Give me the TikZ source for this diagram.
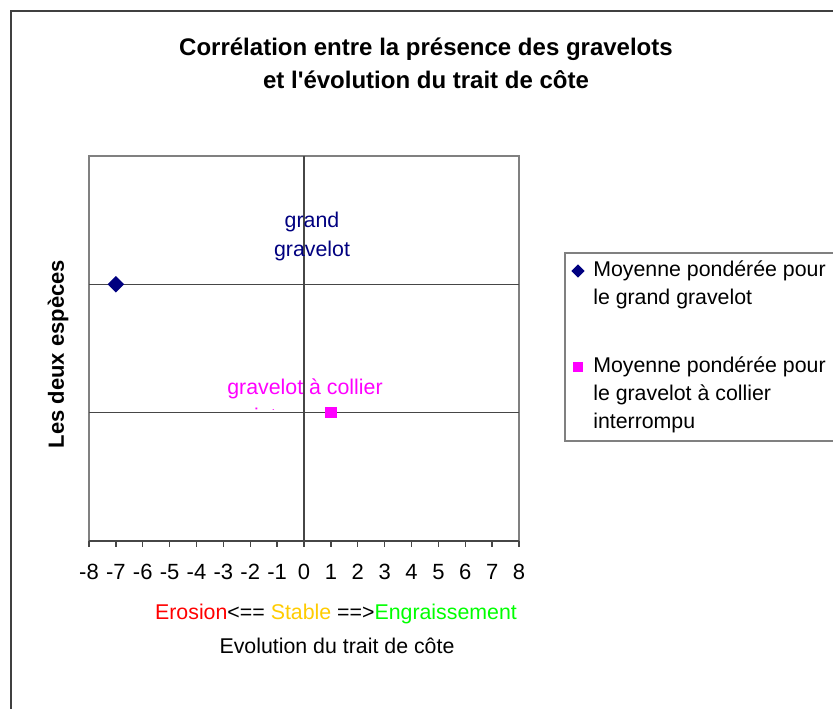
\documentclass[tikz,border=0pt]{standalone}
\usepackage{fontspec}
\setmainfont{Liberation Sans}
\usepackage{tikz}
\usetikzlibrary{shapes.geometric}

\definecolor{grandblue}{RGB}{0,0,128}
\definecolor{collierpink}{RGB}{255,0,255}
\definecolor{erosred}{RGB}{255,0,0}
\definecolor{stableyellow}{RGB}{255,204,0}
\definecolor{engrgreen}{RGB}{0,255,0}
\definecolor{framegray}{RGB}{64,64,64}
\definecolor{boxgray}{RGB}{128,128,128}
\definecolor{axisgray}{RGB}{70,70,70}

\tikzset{
    plaintext/.style={inner sep=0pt,font=\fontsize{16}{21}\selectfont},
    titletext/.style={inner sep=0pt,align=center,font=\fontsize{18}{24.75}\selectfont\bfseries},
    ticklabel/.style={inner sep=0pt,font=\fontsize{16.5}{19}\selectfont},
    grandmark/.style={diamond,fill=grandblue,inner sep=0pt,minimum size=12.5pt},
    colliermark/.style={rectangle,fill=collierpink,inner sep=0pt,minimum size=8.5pt},
    gridline/.style={axisgray,line width=1pt}
}

\begin{document}
\begin{tikzpicture}[x=0.75pt,y=-0.75pt]
    \useasboundingbox (0,0) rectangle (833,709);
    \clip (0,0) rectangle (833,709);
    \fill[white] (0,0) rectangle (833,709);

    % outer chart frame
    \draw[framegray,line width=1.6pt] (11,11) rectangle (860,740);

    \node[titletext] (title) at (426,63) {Corrélation entre la présence des gravelots\\et l\textquotesingle évolution du trait de côte};

    % plot area, data units
    \begin{scope}[shift={(89,541)},x=20.156pt,y=96.25pt]
        \draw[boxgray,line width=1.1pt] (0,0) rectangle (16,3);
        \draw[gridline] (0,1) -- (16,1);
        \draw[gridline] (0,2) -- (16,2);
        \draw[gridline] (8,0) -- (8,3);
        \draw[axisgray,line width=1.1pt] (0,0) -- (16,0);
        \foreach \k in {0,...,16} {
            \pgfmathtruncatemacro{\val}{\k-8}
            \draw[axisgray,line width=1pt] (\k,0) -- ++(0,-0.05);
            \node[ticklabel] (tick\k) at (\k,-0.24) {\val};
        }
        \node[grandmark] (grand) at (1,2) {};
        \node[colliermark] (collier) at (9,1) {};
    \end{scope}

    % data labels
    \node[plaintext,align=center,text=grandblue,font=\fontsize{16}{21.75}\selectfont] (grandlbl) at (312,236) {grand\\gravelot};
    \begin{scope}
        \clip (200,360) rectangle (420,410);
        \node[plaintext,align=center,text=collierpink,font=\fontsize{16}{21.75}\selectfont] (collierlbl) at (305,403) {gravelot à collier\\interrompu};
    \end{scope}

    % axis titles
    \node[plaintext] (sens) at (336,614) {\textcolor{erosred}{Erosion}<== \textcolor{stableyellow}{Stable} ==>\textcolor{engrgreen}{Engraissement}};
    \node[plaintext] (xtitle) at (337,646) {Evolution du trait de côte};
    \node[plaintext,font=\fontsize{16.5}{21}\selectfont\bfseries,rotate=90] (ytitle) at (58,354) {Les deux espèces};

    % legend
    \draw[boxgray,line width=1pt] (565,253) rectangle (870,441);
    \node[grandmark,minimum size=10pt] (leggrand) at (578,271) {};
    \node[plaintext,anchor=west,align=left] (leggrandtxt) at (593,285) {Moyenne pondérée pour\\le grand gravelot};
    \node[colliermark,minimum size=8pt] (legcollier) at (578,367) {};
    \node[plaintext,anchor=west,align=left] (legcolliertxt) at (593,395) {Moyenne pondérée pour\\le gravelot à collier\\interrompu};
\end{tikzpicture}
\end{document}
